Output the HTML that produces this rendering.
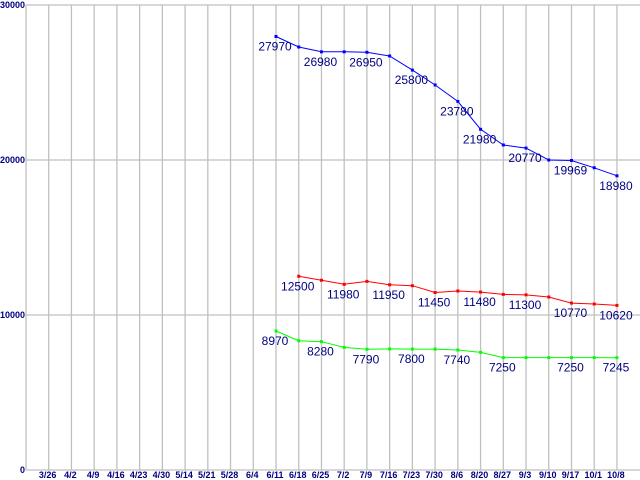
<!DOCTYPE html>
<html><head><meta charset="utf-8"><style>
html,body{margin:0;padding:0;background:#fff}
svg{display:block}
text{font-family:"Liberation Sans",sans-serif}
</style></head><body>
<svg id="chart" width="640" height="480" viewBox="0 0 640 480" xmlns="http://www.w3.org/2000/svg">
<g id="grid"></g>
<g id="axes"></g>
<g id="series"></g>
</svg>
<script>
const categories=["3/26","4/2","4/9","4/16","4/23","4/30","5/14","5/21","5/28","6/4","6/11","6/18","6/25","7/2","7/9","7/16","7/23","7/30","8/6","8/20","8/27","9/3","9/10","9/17","10/1","10/8"];
const yTicks=[0,10000,20000,30000];
const blueStart=10;
const blueValues=[27970,27290,26980,26980,26950,26710,25800,24840,23780,21980,20970,20770,20000,19969,19500,18980];
const blueLabeled=[10,12,14,16,18,19,21,23,25];
const redStart=11;
const redValues=[12500,12240,11980,12170,11950,11890,11450,11550,11480,11330,11300,11160,10770,10710,10620];
const redLabeled=[11,13,15,17,19,21,23,25];
const greenStart=10;
const greenValues=[8970,8340,8280,7910,7790,7810,7800,7800,7740,7590,7250,7250,7250,7250,7250,7245];
const greenLabeled=[10,12,14,16,18,20,23,25];

const NS="http://www.w3.org/2000/svg";
const x0=48.7, dx=22.73;
function xs(i){return x0+i*dx;}
function ys(v){return 470-v*0.0155;}
function mk(tag,attrs,parent){const e=document.createElementNS(NS,tag);for(const k in attrs)e.setAttribute(k,attrs[k]);parent.appendChild(e);return e;}
const grid=document.getElementById('grid'),axes=document.getElementById('axes'),series=document.getElementById('series');

categories.forEach((c,i)=>{
  const l=mk('line',{x1:xs(i),x2:xs(i),y1:5,y2:470,stroke:'#c0c0c0','stroke-width':1.3},grid);
  
  
  const t=mk('text',{x:xs(i)-1,y:478,'text-anchor':'middle','font-size':9,'font-weight':'bold',fill:'#000080'},axes);
  t.textContent=c;
  
  
});
yTicks.forEach(v=>{
  const l=mk('line',{x1:26,x2:640,y1:ys(v),y2:ys(v),stroke:'#c0c0c0','stroke-width':1.3},grid);
  
  
  const t=mk('text',{x:25,y:Math.max(ys(v)+3,8),'text-anchor':'end','font-size':9,'font-weight':'bold','font-family':'Liberation Mono, monospace',fill:'#000080'},axes);
  t.textContent=v;
  
  
});
const ax=mk('line',{x1:26,x2:26,y1:5,y2:470,stroke:'#c0c0c0','stroke-width':1.3},grid);



function drawSeries(start,vals,labeled,color,name){
  const g=mk('g',{},series);
  
  
  const pts=vals.map((v,k)=>xs(start+k).toFixed(1)+','+ys(v).toFixed(1)).join(' ');
  const pl=mk('polyline',{points:pts,fill:'none',stroke:color,'stroke-width':1},g);
  
  
  vals.forEach((v,k)=>{
    const i=start+k;
    const r=mk('rect',{x:xs(i)-1.5,y:ys(v)-1.5,width:3,height:3,fill:color},g);
    
    
    if(labeled.indexOf(i)>=0){
      const t=mk('text',{x:xs(i)-1,y:ys(v)+14,'text-anchor':'middle','font-size':12,fill:'#000080'},g);
      t.textContent=v;
      
      
    }
  });
}
drawSeries(blueStart,blueValues,blueLabeled,'#0000ff','blue');
drawSeries(redStart,redValues,redLabeled,'#ff0000','red');
drawSeries(greenStart,greenValues,greenLabeled,'#00ff00','green');
</script>
</body></html>
